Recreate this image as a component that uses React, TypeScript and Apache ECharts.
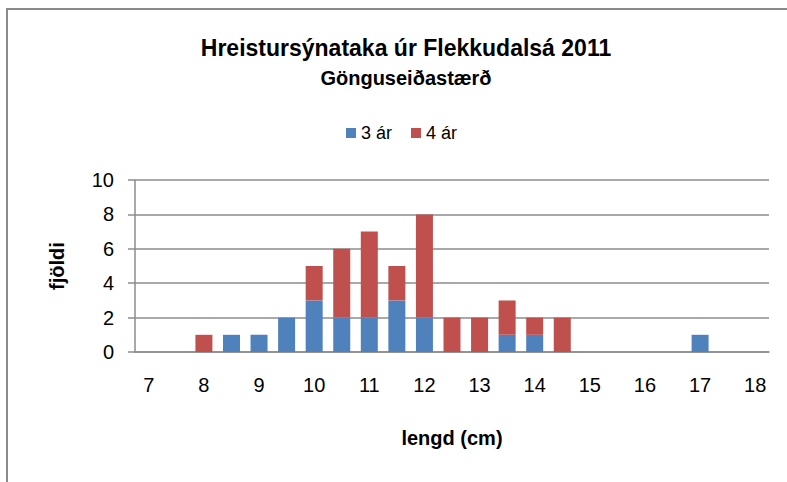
import React, { useEffect, useRef } from "react";
import * as echarts from "echarts";

const lengths = ["7","7.5","8","8.5","9","9.5","10","10.5","11","11.5","12","12.5","13","13.5","14","14.5","15","15.5","16","16.5","17","17.5","18"];
const age3 = [0,0,0,1,1,2,3,2,2,3,2,0,0,1,1,0,0,0,0,0,1,0,0];
const age4 = [0,0,1,0,0,0,2,4,5,2,6,2,2,2,1,2,0,0,0,0,0,0,0];
const seriesNames = ["3 ár", "4 ár"];
const titleText = "Hreistursýnataka úr Flekkudalsá 2011";
const subtitleText = "Gönguseiðastærð";
const yTicks = { min: 0, max: 10, interval: 2 };

const FONT = "'Liberation Sans', 'DejaVu Sans', sans-serif";

export default function App() {
  const ref = useRef<HTMLDivElement>(null);
  useEffect(() => {
    if (!ref.current) return;
    const chart = echarts.init(ref.current, null, { renderer: "svg" });
    chart.setOption({
      animation: false,
      backgroundColor: "#ffffff",
      textStyle: { fontFamily: FONT },
      graphic: [
        {
          type: "rect",
          shape: { x: 7, y: 9, width: 820, height: 520 },
          style: { fill: "none", stroke: "#8a8a8a", lineWidth: 2 },
          silent: true,
        },
      ],
      title: [
        {
          text: titleText,
          left: 401,
          textAlign: "center",
          top: 31,
          textStyle: { fontFamily: FONT, fontSize: 23, fontWeight: "bold", color: "#000" },
        },
        {
          text: subtitleText,
          left: 401,
          textAlign: "center",
          top: 63,
          textStyle: { fontFamily: FONT, fontSize: 20, fontWeight: "bold", color: "#000" },
        },
      ],
      legend: {
        data: seriesNames,
        top: 119,
        left: 341,
        itemWidth: 10,
        itemHeight: 10,
        itemGap: 19,
        icon: "rect",
        textStyle: { fontFamily: FONT, fontSize: 18, color: "#000", padding: [0, 0, 0, 0] },
      },
      grid: { left: 135, right: 18, top: 180, bottom: 130, containLabel: false },
      xAxis: {
        type: "category",
        data: lengths,
        name: "lengd (cm)",
        nameLocation: "middle",
        nameGap: 76,
        nameTextStyle: { fontFamily: FONT, fontSize: 20, fontWeight: "bold", color: "#000" },
        axisLine: { lineStyle: { color: "#8c8c8c", width: 1.5 } },
        axisTick: { show: false },
        axisLabel: {
          interval: 1,
          margin: 23,
          fontSize: 20,
          color: "#000",
          fontFamily: FONT,
        },
      },
      yAxis: {
        type: "value",
        min: yTicks.min,
        max: yTicks.max,
        interval: yTicks.interval,
        name: "fjöldi",
        nameLocation: "middle",
        nameGap: 68,
        nameRotate: 90,
        nameTextStyle: { fontFamily: FONT, fontSize: 20, fontWeight: "bold", color: "#000" },
        axisLine: { show: true, lineStyle: { color: "#8c8c8c", width: 1.5 } },
        axisTick: { show: true, inside: false, length: 7, lineStyle: { color: "#8c8c8c", width: 1.5 } },
        splitLine: { lineStyle: { color: "#8c8c8c", width: 1.5 } },
        axisLabel: { margin: 21, fontSize: 20, color: "#000", fontFamily: FONT },
      },
      series: [
        {
          name: seriesNames[0],
          type: "bar",
          stack: "n",
          data: age3,
          barWidth: 17,
          itemStyle: { color: "#4F81BD" },
        },
        {
          name: seriesNames[1],
          type: "bar",
          stack: "n",
          data: age4,
          barWidth: 17,
          itemStyle: { color: "#C0504D" },
        },
      ],
    });
    return () => chart.dispose();
  }, []);
  return <div ref={ref} style={{ width: 787, height: 482, position: "absolute", left: 0, top: 0 }} />;
}
